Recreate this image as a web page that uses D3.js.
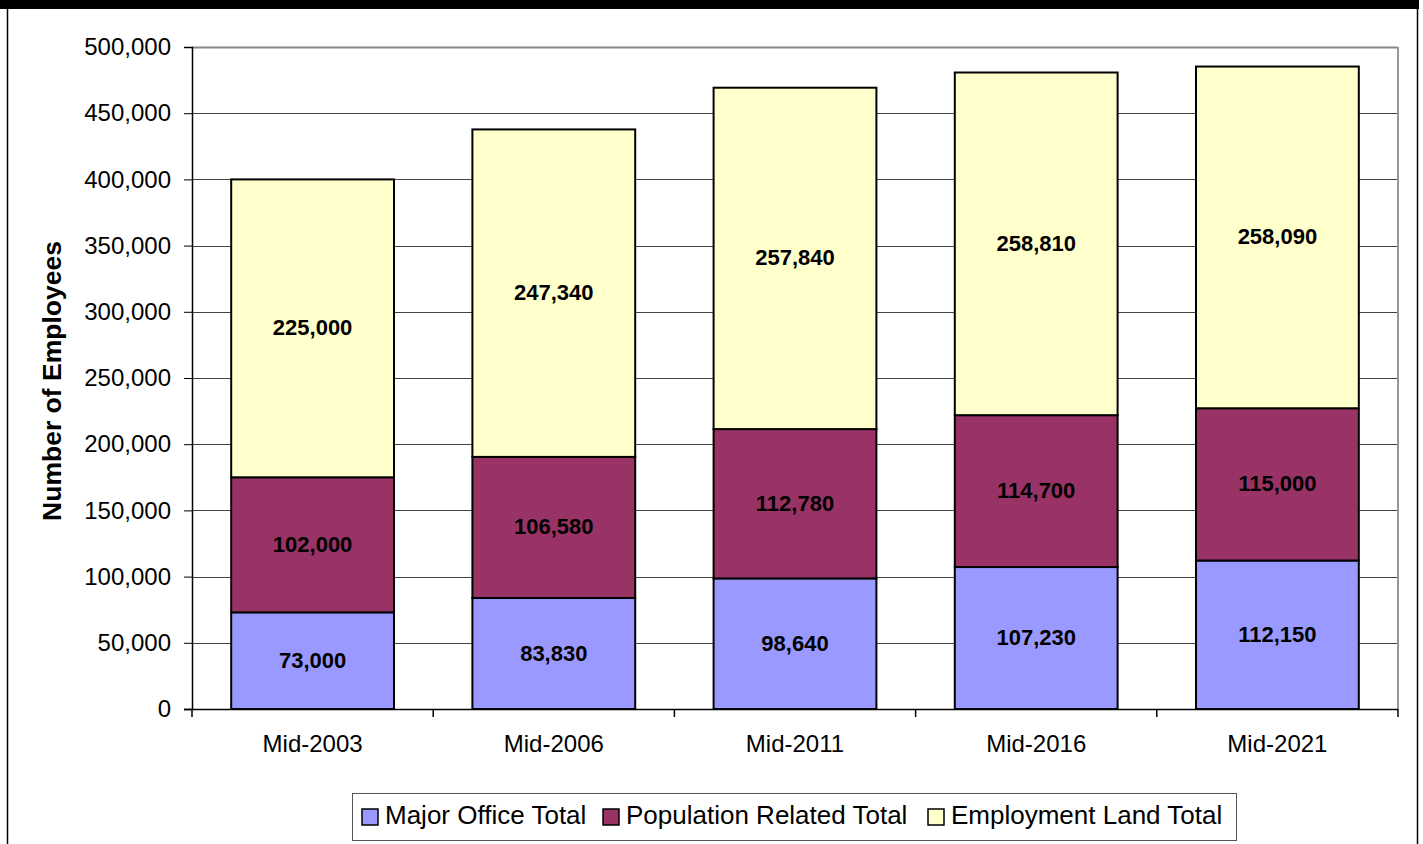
<!DOCTYPE html>
<html>
<head>
<meta charset="utf-8">
<script src="https://cdn.jsdelivr.net/npm/d3@7"></script>
<style>
  body { margin: 0; background: #fff; }
  svg { display: block; font-family: "Liberation Sans", Arial, sans-serif; }
</style>
</head>
<body>
<div id="chart"></div>
<script>
// Data
const categories = ["Mid-2003", "Mid-2006", "Mid-2011", "Mid-2016", "Mid-2021"];
const majorOffice = [73000, 83830, 98640, 107230, 112150];
const populationRelated = [102000, 106580, 112780, 114700, 115000];
const employmentLand = [225000, 247340, 257840, 258810, 258090];
const seriesNames = ["Major Office Total", "Population Related Total", "Employment Land Total"];
const seriesColors = ["#9999FF", "#993366", "#FFFFCC"];
const yTicks = [0, 50000, 100000, 150000, 200000, 250000, 300000, 350000, 400000, 450000, 500000];

const keys = ["major", "pop", "emp"];
const rows = categories.map((c, i) => ({
  category: c,
  major: majorOffice[i],
  pop: populationRelated[i],
  emp: employmentLand[i]
}));

const W = 1423, H = 844;
const plot = { left: 192, right: 1398, top: 47, bottom: 709 };
const FONT = "Liberation Sans, Arial, sans-serif";

const svg = d3.select("#chart").append("svg")
  .attr("width", W)
  .attr("height", H);

// Outer frame
svg.append("rect").attr("x", 0).attr("y", 0).attr("width", 1419).attr("height", 9).attr("fill", "#000");
svg.append("line").attr("x1", 7.5).attr("x2", 7.5).attr("y1", 0).attr("y2", H).attr("stroke", "#000").attr("stroke-width", 1.5);
svg.append("line").attr("x1", 1417.5).attr("x2", 1417.5).attr("y1", 0).attr("y2", H).attr("stroke", "#000").attr("stroke-width", 1.5);

// Scales
const x = d3.scaleBand()
  .domain(categories)
  .range([plot.left, plot.right])
  .paddingInner(0.325)
  .paddingOuter(0.1625);

const y = d3.scaleLinear()
  .domain([0, 500000])
  .range([plot.bottom, plot.top]);

const color = d3.scaleOrdinal().domain(keys).range(seriesColors);

// Gridlines
svg.append("g")
  .selectAll("line")
  .data(yTicks.filter(d => d > 0))
  .enter()
  .append("line")
  .attr("x1", plot.left)
  .attr("x2", plot.right)
  .attr("y1", d => Math.round(y(d)) + 0.5)
  .attr("y2", d => Math.round(y(d)) + 0.5)
  .attr("stroke", d => d === 500000 ? "#888" : "#444")
  .attr("stroke-width", d => d === 500000 ? 2 : 1);

// Plot right border
svg.append("line")
  .attr("x1", plot.right).attr("x2", plot.right)
  .attr("y1", plot.top).attr("y2", plot.bottom)
  .attr("stroke", "#999").attr("stroke-width", 2);

// Bars
const stacked = d3.stack().keys(keys)(rows);

const layers = svg.append("g")
  .selectAll("g")
  .data(stacked)
  .enter()
  .append("g")
  .attr("fill", d => color(d.key));

layers.selectAll("rect")
  .data(d => d)
  .enter()
  .append("rect")
  .attr("x", d => x(d.data.category))
  .attr("y", d => y(d[1]))
  .attr("width", x.bandwidth())
  .attr("height", d => y(d[0]) - y(d[1]))
  .attr("stroke", "#000")
  .attr("stroke-width", 2);

// Bar labels
layers.selectAll("text")
  .data(d => d.map(p => ({ ...p, key: d.key })))
  .enter()
  .append("text")
  .attr("x", d => x(d.data.category) + x.bandwidth() / 2)
  .attr("y", d => (y(d[0]) + y(d[1])) / 2 + 7)
  .attr("text-anchor", "middle")
  .attr("font-size", 22)
  .attr("font-weight", "bold")
  .attr("fill", "#000")
  .text(d => d3.format(",")(d.data[d.key]));

// Y axis
const yAxis = svg.append("g")
  .attr("transform", `translate(${plot.left},0)`)
  .call(d3.axisLeft(y).tickValues(yTicks).tickFormat(d3.format(",")).tickSize(8).tickPadding(13));
yAxis.select(".domain").attr("stroke", "#000").attr("stroke-width", 1.5);
yAxis.selectAll(".tick line").attr("stroke", "#000");
yAxis.selectAll("text").attr("font-size", 24).attr("font-family", FONT).attr("fill", "#000");

// X axis
const xAxis = svg.append("g")
  .attr("transform", `translate(0,${plot.bottom})`)
  .call(d3.axisBottom(x).tickSize(0).tickPadding(26));
xAxis.select(".domain").remove();
xAxis.selectAll("text").attr("font-size", 24).attr("font-family", FONT).attr("fill", "#000");
svg.append("line")
  .attr("x1", plot.left - 8).attr("x2", plot.right)
  .attr("y1", plot.bottom + 0.5).attr("y2", plot.bottom + 0.5)
  .attr("stroke", "#000").attr("stroke-width", 1.5);

// X tick marks at category boundaries
svg.append("g")
  .selectAll("line")
  .data(d3.range(categories.length + 1))
  .enter()
  .append("line")
  .attr("x1", i => plot.left + i * (plot.right - plot.left) / categories.length)
  .attr("x2", i => plot.left + i * (plot.right - plot.left) / categories.length)
  .attr("y1", plot.bottom)
  .attr("y2", plot.bottom + 8)
  .attr("stroke", "#000")
  .attr("stroke-width", 1.5);

// Y axis title
svg.append("text")
  .attr("transform", "translate(61,381) rotate(-90)")
  .attr("text-anchor", "middle")
  .attr("font-size", 26.5)
  .attr("font-weight", "bold")
  .text("Number of Employees");

// Legend
const legend = svg.append("g");
legend.append("rect")
  .attr("x", 352.5).attr("y", 793.5)
  .attr("width", 884).attr("height", 47)
  .attr("fill", "#fff").attr("stroke", "#555").attr("stroke-width", 1);

const legendX = [362, 603, 928];
seriesNames.forEach((name, i) => {
  legend.append("rect")
    .attr("x", legendX[i]).attr("y", 809)
    .attr("width", 16).attr("height", 16)
    .attr("fill", seriesColors[i]).attr("stroke", "#000").attr("stroke-width", 1.5);
  legend.append("text")
    .attr("x", legendX[i] + 23).attr("y", 824)
    .attr("font-size", 26)
    .text(name);
});
</script>
</body>
</html>
